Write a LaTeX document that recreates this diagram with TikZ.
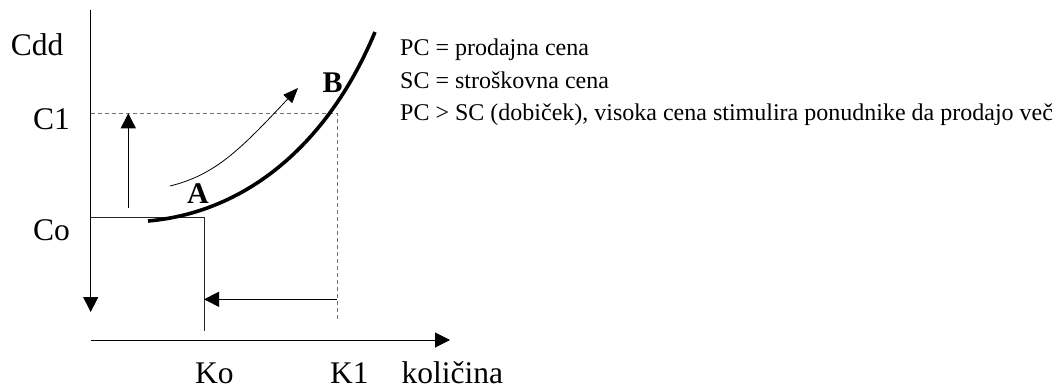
\documentclass[tikz,border=0pt]{standalone}
\usepackage{fontspec}
\setmainfont{Liberation Serif}
\usetikzlibrary{arrows.meta}
\begin{document}
\begin{tikzpicture}[x=1pt,y=-1pt,
  thinline/.style={line width=1pt, draw=black},
  guide/.style={line width=1pt, draw=black!85},
  dashline/.style={line width=1pt, draw=black!55, dash pattern=on 4pt off 3pt},
  headtip/.style={-{Triangle[length=15pt,width=15pt]}},
  smalltip/.style={-{Triangle[length=15pt,width=12pt]}},
  axislabel/.style={inner sep=0pt, font=\fontsize{31.5}{36}\selectfont},
  bottomlabel/.style={axislabel, anchor=base west},
  pointlabel/.style={inner sep=0pt, font=\fontsize{30}{36}\selectfont\bfseries, anchor=base west},
  note/.style={inner sep=0pt, font=\fontsize{24}{29}\selectfont, anchor=base west}]
\useasboundingbox (0,0) rectangle (1059,390);
% axes
\coordinate (ytop) at (90.7,10);
\coordinate (ybot) at (90.7,312);
\coordinate (xl) at (90.7,340);
\coordinate (xr) at (450,340);
\draw[thinline,headtip] (ytop) -- (ybot);
\draw[thinline,headtip] (xl) -- (xr);
% Co level
\coordinate (co0) at (90.7,217.7);
\coordinate (co1) at (204,217.7);
\coordinate (ko) at (204,331);
\draw[guide] (co0) -- (co1) -- (ko);
% C1 level (dashed)
\coordinate (c10) at (90.7,113.7);
\coordinate (c11) at (337.3,113.7);
\coordinate (k1) at (337.3,321.7);
\draw[dashline] (c10) -- (c11) -- (k1);
% arrows
\coordinate (la0) at (337.3,299.3);
\coordinate (la1) at (204,299.3);
\draw[thinline,headtip] (la0) -- (la1);
\coordinate (ua0) at (128.3,208);
\coordinate (ua1) at (128.3,113.3);
\draw[thinline,headtip] (ua0) -- (ua1);
% supply curve
\coordinate (s0) at (148,221);
\coordinate (s1) at (375,32);
\draw[line width=3.6pt] (s0) .. controls (250,212) and (330,140) .. (s1);
% movement arrow
\coordinate (m0) at (170,186);
\coordinate (m1) at (298,88);
\draw[line width=0.8pt,smalltip] (m0) .. controls (215,175) and (240,150) .. (m1);
% labels
\node[axislabel, anchor=base east] (cdd) at (63.5,56) {Cdd};
\node[axislabel, anchor=base east] (c1) at (70,129.5) {C1};
\node[axislabel, anchor=base east] (co) at (70,240) {Co};
\node[bottomlabel] (kol) at (195,383.5) {Ko};
\node[bottomlabel] (kone) at (330,383.5) {K1};
\node[bottomlabel] (kolicina) at (401.5,383.5) {količina};
\node[pointlabel] (A) at (187,203) {A};
\node[pointlabel] (B) at (322.5,93) {B};
% notes
\node[note] (n1) at (400,56) {PC = prodajna cena};
\node[note] (n2) at (400,88.5) {SC = stroškovna cena};
\node[note] (n3) at (400,121) {PC > SC (dobiček), visoka cena stimulira ponudnike da prodajo več};
\end{tikzpicture}
\end{document}
